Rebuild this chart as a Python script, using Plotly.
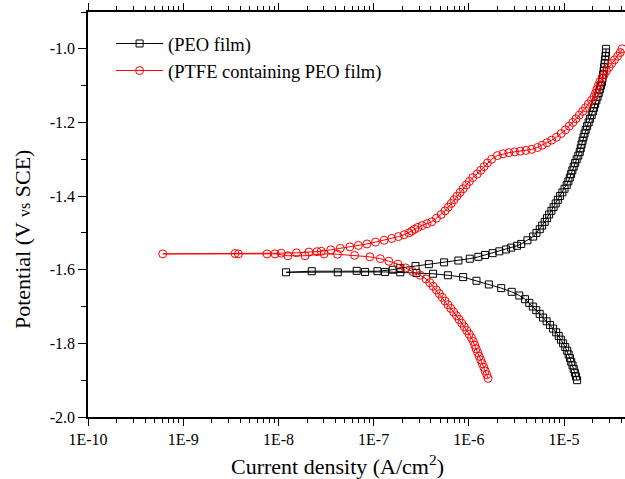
import numpy as np
import plotly.graph_objects as go

# PEO film: potential (V vs SCE) and log10 of current density (A/cm2), scan from cathodic to anodic
peo_E = [-1.900, -1.890, -1.880, -1.870, -1.860, -1.850, -1.840, -1.830, -1.820, -1.810,
         -1.800, -1.790, -1.780, -1.770, -1.760, -1.750, -1.740, -1.730, -1.720, -1.710,
         -1.700, -1.690, -1.680, -1.670, -1.660, -1.650, -1.640, -1.630, -1.620, -1.615,
         -1.611, -1.609, -1.607, -1.606,
         -1.606, -1.607, -1.607, -1.604, -1.603, -1.604,
         -1.600, -1.595, -1.590, -1.585, -1.580, -1.575, -1.570, -1.565, -1.560, -1.555,
         -1.550, -1.545, -1.540, -1.535, -1.530, -1.520, -1.510, -1.500, -1.490, -1.480,
         -1.470, -1.460, -1.450, -1.440, -1.430, -1.420, -1.410, -1.400, -1.390, -1.380,
         -1.370, -1.360, -1.350, -1.340, -1.330, -1.320, -1.310, -1.300, -1.290, -1.280,
         -1.270, -1.260, -1.250, -1.240, -1.230, -1.220, -1.210, -1.200, -1.190, -1.180,
         -1.170, -1.160, -1.150, -1.140, -1.130, -1.120, -1.110, -1.100, -1.090, -1.080,
         -1.070, -1.060, -1.050, -1.040, -1.030, -1.020, -1.010, -1.000]
peo_logI = [-4.863, -4.874, -4.886, -4.898, -4.911, -4.925, -4.938, -4.952, -4.967, -4.988,
            -5.010, -5.033, -5.056, -5.083, -5.115, -5.148, -5.183, -5.221, -5.256, -5.292,
            -5.328, -5.365, -5.410, -5.470, -5.550, -5.660, -5.790, -5.920, -6.060, -6.220,
            -6.376, -6.550, -6.720, -6.880,
            -7.090, -7.377, -7.920, -7.650, -7.178, -6.960,
            -6.800, -6.720, -6.560, -6.420, -6.260, -6.110, -5.990, -5.900, -5.830, -5.750,
            -5.680, -5.610, -5.555, -5.494, -5.450, -5.385, -5.325, -5.290, -5.255, -5.230,
            -5.203, -5.180, -5.157, -5.133, -5.110, -5.088, -5.065, -5.042, -5.018, -4.995,
            -4.972, -4.955, -4.940, -4.926, -4.913, -4.899, -4.884, -4.868, -4.850, -4.835,
            -4.825, -4.816, -4.806, -4.796, -4.785, -4.773, -4.758, -4.742, -4.727, -4.710,
            -4.698, -4.686, -4.674, -4.661, -4.648, -4.636, -4.624, -4.613, -4.602, -4.596,
            -4.590, -4.584, -4.579, -4.574, -4.569, -4.565, -4.561, -4.559]

# PTFE containing PEO film
ptfe_E = [-1.895, -1.885, -1.875, -1.865, -1.855, -1.845, -1.835, -1.825, -1.815, -1.805,
          -1.795, -1.785, -1.775, -1.765, -1.755, -1.745, -1.735, -1.725, -1.715, -1.705,
          -1.695, -1.685, -1.675, -1.665, -1.655, -1.645, -1.635, -1.625, -1.615, -1.605,
          -1.595, -1.585, -1.577, -1.570, -1.565, -1.561, -1.558, -1.557,
          -1.562, -1.562, -1.557, -1.557, -1.557,
          -1.556, -1.557, -1.555, -1.554, -1.552, -1.551,
          -1.550, -1.546, -1.542, -1.538, -1.534, -1.530, -1.525, -1.520, -1.515, -1.510,
          -1.505, -1.500, -1.495, -1.490, -1.485, -1.480, -1.475, -1.470, -1.460, -1.450,
          -1.440, -1.430, -1.420, -1.410, -1.400, -1.390, -1.380, -1.370, -1.360, -1.350,
          -1.340, -1.330, -1.320, -1.310, -1.300, -1.290, -1.285, -1.282, -1.280, -1.278,
          -1.276, -1.273, -1.268, -1.262, -1.255, -1.248, -1.240, -1.230, -1.220, -1.210,
          -1.200, -1.190, -1.180, -1.170, -1.160, -1.150, -1.140, -1.130, -1.120, -1.110,
          -1.100, -1.090, -1.080, -1.070, -1.060, -1.050, -1.040, -1.030, -1.020, -1.010,
          -1.000]
ptfe_logI = [-5.798, -5.812, -5.828, -5.843, -5.859, -5.875, -5.891, -5.907, -5.923, -5.938,
             -5.952, -5.972, -5.997, -6.022, -6.048, -6.075, -6.103, -6.130, -6.160, -6.190,
             -6.220, -6.250, -6.280, -6.310, -6.341, -6.375, -6.410, -6.450, -6.510, -6.590,
             -6.665, -6.745, -6.840, -6.930, -7.040, -7.200, -7.380, -7.520,
             -7.720, -7.900, -8.036, -8.420, -9.215,
             -8.456, -8.120, -7.970, -7.810, -7.680, -7.595,
             -7.550, -7.450, -7.350, -7.250, -7.160, -7.070, -6.980, -6.890, -6.810, -6.740,
             -6.680, -6.630, -6.600, -6.570, -6.535, -6.490, -6.440, -6.390, -6.340, -6.290,
             -6.250, -6.215, -6.185, -6.155, -6.124, -6.092, -6.060, -6.027, -5.995, -5.960,
             -5.912, -5.875, -5.840, -5.805, -5.760, -5.700, -5.640, -5.580, -5.520, -5.460,
             -5.400, -5.340, -5.280, -5.230, -5.180, -5.130, -5.080, -5.030, -4.985, -4.945,
             -4.908, -4.875, -4.840, -4.805, -4.775, -4.745, -4.712, -4.685, -4.668, -4.655,
             -4.640, -4.624, -4.600, -4.578, -4.555, -4.528, -4.500, -4.470, -4.438, -4.410,
             -4.390]

series_names = ["(PEO film)", "(PTFE containing PEO film)"]
x_tick_vals = [1e-10, 1e-9, 1e-8, 1e-7, 1e-6, 1e-5]
x_tick_text = ["1E-10", "1E-9", "1E-8", "1E-7", "1E-6", "1E-5"]
y_tick_vals = [-2.0, -1.8, -1.6, -1.4, -1.2, -1.0]
y_tick_text = ["-2.0", "-1.8", "-1.6", "-1.4", "-1.2", "-1.0"]
x_title = "Current density (A/cm<sup>2</sup>)"
y_title = "Potential (V <span style='font-size:16px'>vs</span> SCE)"

FONT = "Liberation Serif"

fig = go.Figure()
fig.add_trace(go.Scatter(
    x=10 ** np.array(peo_logI), y=peo_E, name=series_names[0], mode="lines+markers",
    line=dict(color="black", width=1),
    marker=dict(symbol="square-open", size=7, color="black", line=dict(width=1, color="black")),
))
fig.add_trace(go.Scatter(
    x=10 ** np.array(ptfe_logI), y=ptfe_E, name=series_names[1], mode="lines+markers",
    line=dict(color="#ff0000", width=1),
    marker=dict(symbol="circle-open", size=8, color="#ff0000", line=dict(width=1, color="#ff0000")),
))

minor_x = [k * 10.0 ** n for n in range(-10, -4) for k in range(2, 10)]

fig.update_layout(
    width=625, height=479,
    margin=dict(l=88, r=0, t=12, b=62),
    paper_bgcolor="white", plot_bgcolor="white",
    font=dict(family=FONT, size=16, color="black"),
    showlegend=True,
    legend=dict(x=0.043, y=0.968, xanchor="left", yanchor="top",
                bgcolor="rgba(0,0,0,0)", font=dict(family=FONT, size=18.5),
                itemwidth=47, tracegroupgap=0),
    annotations=[
        dict(text=x_title, xref="paper", yref="paper", x=0.4646, y=-0.1175,
             xanchor="center", yanchor="middle", showarrow=False,
             font=dict(family=FONT, size=22, color="black")),
        dict(text=y_title, xref="paper", yref="paper", x=-0.1229, y=0.437,
             xanchor="center", yanchor="middle", showarrow=False, textangle=-90,
             font=dict(family=FONT, size=22, color="black")),
    ],
)
fig.update_xaxes(
    type="log", range=[-10, -4.36],
    tickvals=x_tick_vals, ticktext=x_tick_text,
    ticks="outside", ticklen=7, tickwidth=1, tickcolor="black",
    minor=dict(tickvals=minor_x, ticks="outside", ticklen=4, tickwidth=1, tickcolor="black", showgrid=False),
    showline=True, linecolor="black", linewidth=1.5, mirror="ticks",
    showgrid=False, zeroline=False,
    tickfont=dict(family=FONT, size=16),
)
fig.update_yaxes(
    range=[-2.0, -0.9],
    tickvals=y_tick_vals, ticktext=y_tick_text,
    ticks="outside", ticklen=8, tickwidth=1, tickcolor="black",
    minor=dict(dtick=0.1, ticks="outside", ticklen=5, tickwidth=1, tickcolor="black", showgrid=False),
    showline=True, linecolor="black", linewidth=1.5, mirror=False,
    showgrid=False, zeroline=False,
    tickfont=dict(family=FONT, size=16),
)

fig.write_html("out.html")
